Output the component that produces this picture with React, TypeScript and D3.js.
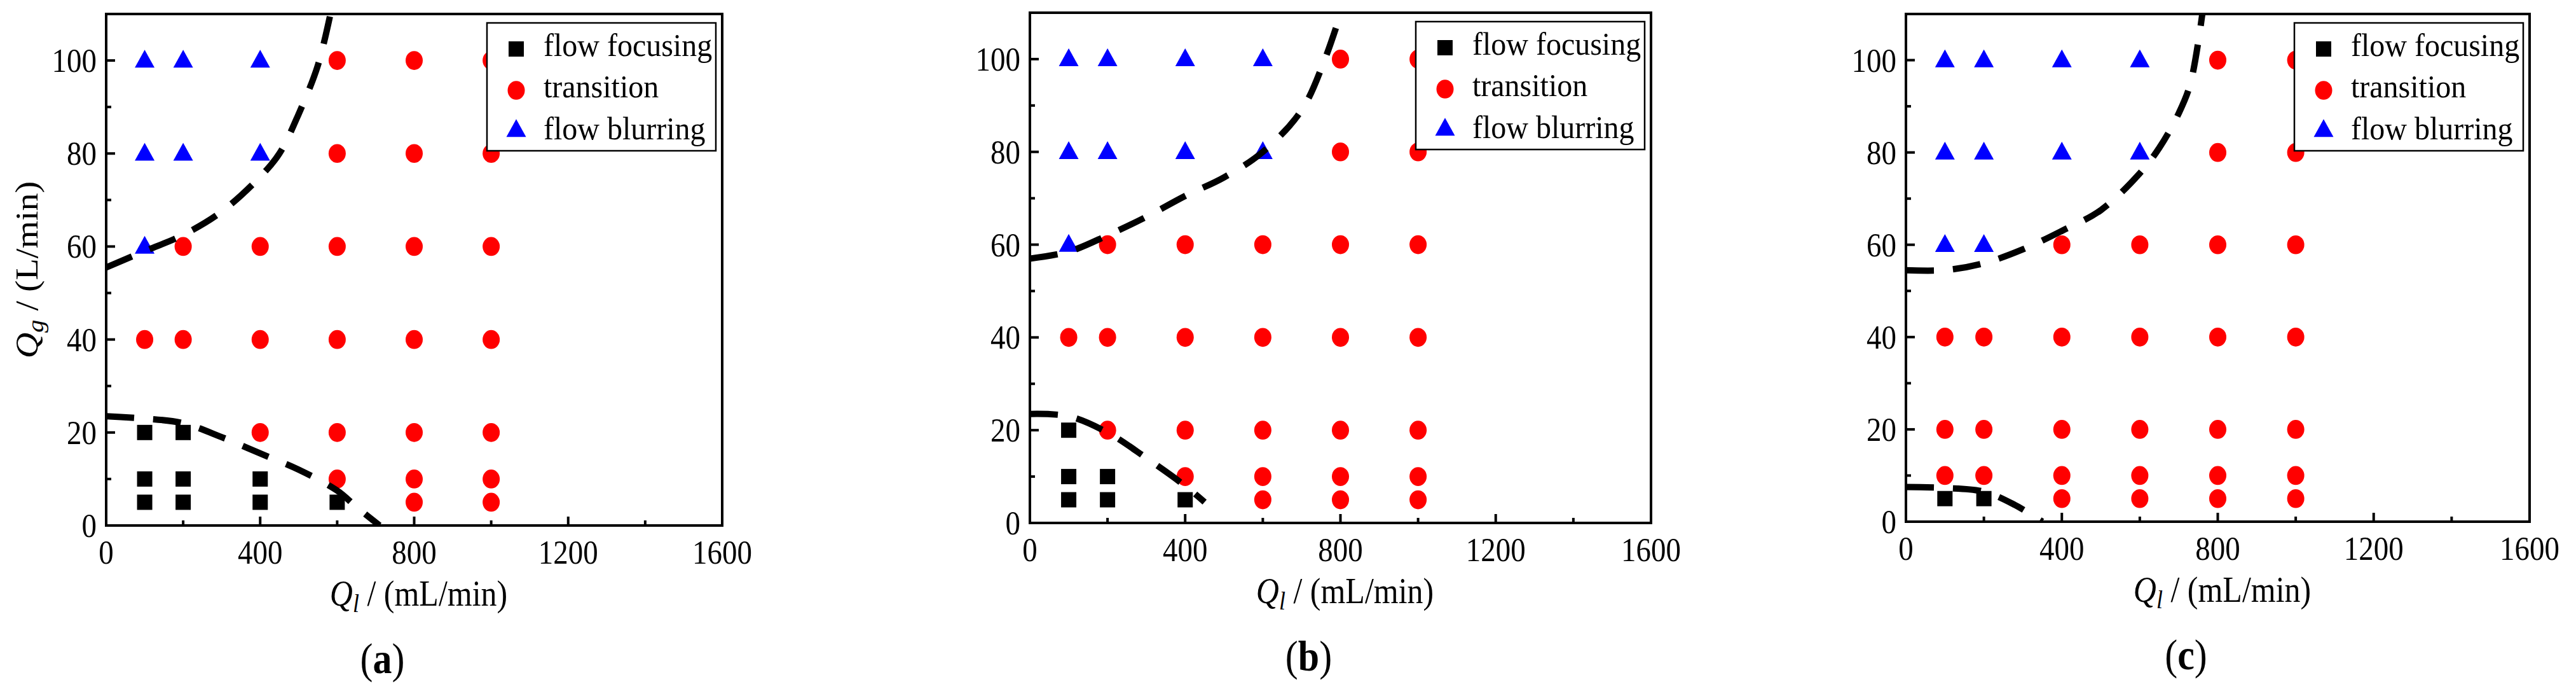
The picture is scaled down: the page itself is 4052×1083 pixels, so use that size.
import React from "react";
import * as d3 from "d3";

// ---------- data ----------
const X_TICKS = [0, 400, 800, 1200, 1600];
const X_MINOR = [200, 600, 1000, 1400];
const Y_TICKS = [0, 20, 40, 60, 80, 100];
const Y_MINOR = [10, 30, 50, 70, 90];
const SERIES_NAMES = ["flow focusing", "transition", "flow blurring"];
const PANEL_LABELS = ["a", "b", "c"];

type P = [number, number];

// panel (a)
const focusingA: P[] = [[100, 20], [200, 20], [100, 10], [200, 10], [400, 10], [100, 5], [200, 5], [400, 5], [600, 5]];
const transitionA: P[] = [
  [600, 100], [800, 100], [1000, 100],
  [600, 80], [800, 80], [1000, 80],
  [200, 60], [400, 60], [600, 60], [800, 60], [1000, 60],
  [100, 40], [200, 40], [400, 40], [600, 40], [800, 40], [1000, 40],
  [400, 20], [600, 20], [800, 20], [1000, 20],
  [600, 10], [800, 10], [1000, 10],
  [800, 5], [1000, 5],
];
const blurringA: P[] = [[100, 100], [200, 100], [400, 100], [100, 80], [200, 80], [400, 80], [100, 60]];
const upperA: P[] = [[0, 55.5], [100, 59], [200, 62.5], [300, 67.5], [400, 75], [450, 80], [500, 88.5], [550, 99], [585, 111]];
const lowerA: P[] = [[0, 23.5], [100, 23], [200, 22], [300, 19], [400, 15.5], [500, 12], [600, 7.5], [650, 4], [710, 0]];

// panel (b)
const focusingB: P[] = [[100, 20], [100, 10], [200, 10], [100, 5], [200, 5], [400, 5]];
const transitionB: P[] = [
  [800, 100], [1000, 100],
  [800, 80], [1000, 80],
  [200, 60], [400, 60], [600, 60], [800, 60], [1000, 60],
  [100, 40], [200, 40], [400, 40], [600, 40], [800, 40], [1000, 40],
  [200, 20], [400, 20], [600, 20], [800, 20], [1000, 20],
  [400, 10], [600, 10], [800, 10], [1000, 10],
  [600, 5], [800, 5], [1000, 5],
];
const blurringB: P[] = [[100, 100], [200, 100], [400, 100], [600, 100], [100, 80], [200, 80], [400, 80], [600, 80], [100, 60]];
const upperB: P[] = [[0, 57], [100, 58.5], [200, 62], [300, 66], [400, 70.5], [500, 74.5], [600, 80], [700, 89], [760, 100], [805, 111]];
const lowerB: P[] = [[0, 23.5], [100, 23], [200, 19.5], [300, 14], [400, 8], [450, 4.5]];

// panel (c)
const focusingC: P[] = [[100, 5], [200, 5]];
const transitionC: P[] = [
  [800, 100], [1000, 100],
  [800, 80], [1000, 80],
  [400, 60], [600, 60], [800, 60], [1000, 60],
  [100, 40], [200, 40], [400, 40], [600, 40], [800, 40], [1000, 40],
  [100, 20], [200, 20], [400, 20], [600, 20], [800, 20], [1000, 20],
  [100, 10], [200, 10], [400, 10], [600, 10], [800, 10], [1000, 10],
  [400, 5], [600, 5], [800, 5], [1000, 5],
];
const blurringC: P[] = [[100, 100], [200, 100], [400, 100], [600, 100], [100, 80], [200, 80], [400, 80], [600, 80], [100, 60], [200, 60]];
const upperC: P[] = [[0, 54.5], [100, 54.5], [200, 56], [300, 59], [400, 63], [500, 67.5], [600, 75.5], [650, 81], [700, 88.5], [730, 95], [762, 111]];
const lowerC: P[] = [[0, 7.5], [100, 7.3], [200, 6.5], [280, 3.6], [350, 0]];

// ---------- layout ----------
const W = 4052;
const H = 1083;
const FONT = "'Liberation Serif', 'Times New Roman', serif";
const RED = "#FF0000";
const BLUE = "#0000FF";

const panels = [
  { left: 167, right: 1136, top: 22, bottom: 826, focusing: focusingA, transition: transitionA, blurring: blurringA, upper: upperA, lower: lowerA, yTitle: true },
  { left: 1620, right: 2597, top: 20, bottom: 822, focusing: focusingB, transition: transitionB, blurring: blurringB, upper: upperB, lower: lowerB, yTitle: false },
  { left: 2998, right: 3979, top: 22, bottom: 820, focusing: focusingC, transition: transitionC, blurring: blurringC, upper: upperC, lower: lowerC, yTitle: false },
];

const squarePath = d3.symbol(d3.symbolSquare, 24 * 24)()!;
const circlePath = d3.symbol(d3.symbolCircle, Math.PI * 13.5 * 13.5)()!;
const triW = 31, triH = 28;
const trianglePath = `M0,${-triH * 0.6}L${triW / 2},${triH * 0.4}L${-triW / 2},${triH * 0.4}Z`;

function Marker({ kind, x, y }: { kind: number; x: number; y: number }) {
  if (kind === 0) return <path d={squarePath} transform={`translate(${x},${y})`} fill="#000" />;
  if (kind === 1) return <path d={circlePath} transform={`translate(${x},${y}) scale(1,1.1)`} fill={RED} />;
  return <path d={trianglePath} transform={`translate(${x},${y})`} fill={BLUE} />;
}

function Panel({ cfg, idx }: { cfg: (typeof panels)[number]; idx: number }) {
  const x = d3.scaleLinear().domain([0, 1600]).range([cfg.left, cfg.right]);
  const y = d3.scaleLinear().domain([0, 110]).range([cfg.bottom, cfg.top]);
  const line = d3.line<P>().x((d) => x(d[0])).y((d) => y(d[1])).curve(d3.curveCatmullRom.alpha(0.5));
  const clipId = `clip${idx}`;
  const cx = (cfg.left + cfg.right) / 2;
  const lgRight = cfg.right - 10;
  const lgLeft = lgRight - 360;
  const lgTop = cfg.top + 14;
  const rows = [lgTop + 41, lgTop + 106, lgTop + 168];
  const baselines = [lgTop + 52, lgTop + 117, lgTop + 183];
  return (
    <g>
      <defs>
        <clipPath id={clipId}>
          <rect x={cfg.left} y={cfg.top} width={cfg.right - cfg.left} height={cfg.bottom - cfg.top} />
        </clipPath>
      </defs>
      {cfg.focusing.map((d, i) => <Marker key={"f" + i} kind={0} x={x(d[0])} y={y(d[1])} />)}
      {cfg.transition.map((d, i) => <Marker key={"t" + i} kind={1} x={x(d[0])} y={y(d[1])} />)}
      {cfg.blurring.map((d, i) => <Marker key={"b" + i} kind={2} x={x(d[0])} y={y(d[1])} />)}
      <g clipPath={`url(#${clipId})`}>
        {[cfg.upper, cfg.lower].map((pts, i) => (
          <path key={i} d={line(pts)!} fill="none" stroke="#000" strokeWidth={10} strokeDasharray="44 30" />
        ))}
      </g>
      <rect x={cfg.left} y={cfg.top} width={cfg.right - cfg.left} height={cfg.bottom - cfg.top} fill="none" stroke="#000" strokeWidth={4} />
      {X_TICKS.map((t) => (
        <line key={"xt" + t} x1={x(t)} x2={x(t)} y1={cfg.bottom} y2={cfg.bottom - 14} stroke="#000" strokeWidth={4} />
      ))}
      {X_MINOR.map((t) => (
        <line key={"xm" + t} x1={x(t)} x2={x(t)} y1={cfg.bottom} y2={cfg.bottom - 8} stroke="#000" strokeWidth={4} />
      ))}
      {Y_TICKS.map((t) => (
        <line key={"yt" + t} x1={cfg.left} x2={cfg.left + 14} y1={y(t)} y2={y(t)} stroke="#000" strokeWidth={4} />
      ))}
      {Y_MINOR.map((t) => (
        <line key={"ym" + t} x1={cfg.left} x2={cfg.left + 8} y1={y(t)} y2={y(t)} stroke="#000" strokeWidth={4} />
      ))}
      {X_TICKS.map((t) => (
        <text key={"xl" + t} transform={`translate(${x(t)},${cfg.bottom + 60}) scale(1,1.12)`} textAnchor="middle" fontSize={47} fontFamily={FONT}>
          {t}
        </text>
      ))}
      {Y_TICKS.map((t) => (
        <text key={"yl" + t} transform={`translate(${cfg.left - 15},${y(t) + 18}) scale(1,1.12)`} textAnchor="end" fontSize={47} fontFamily={FONT}>
          {t}
        </text>
      ))}
      <text transform={`translate(${cx + 7},${cfg.bottom + 126}) scale(1,1.12)`} textAnchor="middle" fontSize={50} fontFamily={FONT}>
        <tspan fontStyle="italic">Q</tspan>
        <tspan fontStyle="italic" fontSize={36} dy={9}>l</tspan>
        <tspan dy={-9}> / (mL/min)</tspan>
      </text>
      {cfg.yTitle && (
        <text transform={`translate(${cfg.left - 108},${(cfg.top + cfg.bottom) / 2}) rotate(-90) scale(1.12,1)`} textAnchor="middle" fontSize={50} fontFamily={FONT}>
          <tspan fontStyle="italic">Q</tspan>
          <tspan fontStyle="italic" fontSize={36} dy={9}>g</tspan>
          <tspan dy={-9}> / (L/min)</tspan>
        </text>
      )}
      <text transform={`translate(${cx - 50},${cfg.bottom + 232}) scale(1,1.12)`} textAnchor="middle" fontSize={60} fontFamily={FONT}>
        (<tspan fontWeight="bold">{PANEL_LABELS[idx]}</tspan>)
      </text>
      <rect x={lgLeft} y={lgTop} width={lgRight - lgLeft} height={201} fill="#fff" stroke="#000" strokeWidth={2.5} />
      {SERIES_NAMES.map((name, i) => (
        <g key={name}>
          <Marker kind={i} x={lgLeft + 46} y={rows[i]} />
          <text transform={`translate(${lgLeft + 89},${baselines[i]}) scale(1,1.07)`} fontSize={48} fontFamily={FONT}>
            {name}
          </text>
        </g>
      ))}
    </g>
  );
}

export default function App() {
  return (
    <svg width={W} height={H} viewBox={`0 0 ${W} ${H}`} style={{ display: "block", position: "absolute", left: 0, top: 0, background: "#fff" }}>
      <rect width={W} height={H} fill="#fff" />
      {panels.map((p, i) => (
        <Panel key={i} cfg={p} idx={i} />
      ))}
    </svg>
  );
}
